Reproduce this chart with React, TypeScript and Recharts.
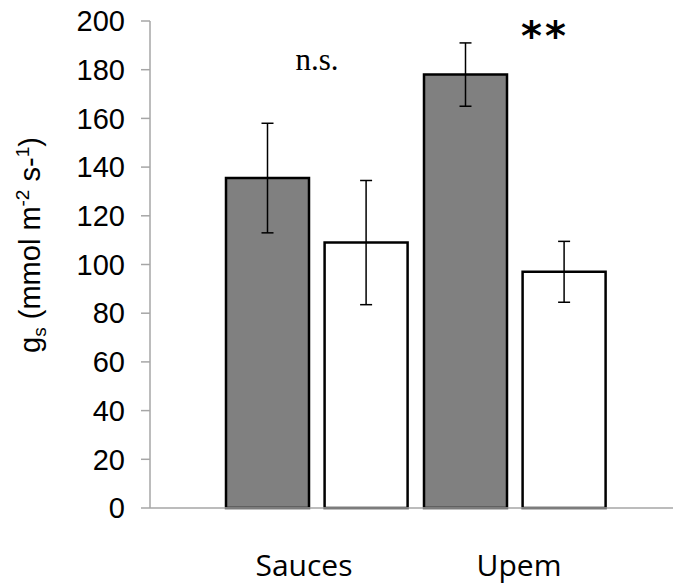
import React from 'react';
import { BarChart, Bar, XAxis, YAxis, ErrorBar, ReferenceDot } from 'recharts';

const categories = ['Sauces', 'Upem'];
const greyValues = [135.5, 178];
const greyErrors = [22.5, 13];
const whiteValues = [109, 97];
const whiteErrors = [25.5, 12.5];
const yTicks = [0, 20, 40, 60, 80, 100, 120, 140, 160, 180, 200];
const annotations = [
  { category: 'Sauces', text: 'n.s.', y: 180 },
  { category: 'Upem', text: '**', y: 196 },
];

const data = categories.map((c, i) => ({
  category: c,
  grey: greyValues[i],
  greyErr: greyErrors[i],
  white: whiteValues[i],
  whiteErr: whiteErrors[i],
}));

const tickShift: Record<string, number> = { Sauces: -13, Upem: 4 };

const XTick = (props: any) => {
  const { x, y, payload } = props;
  return (
    <text
      x={x + (tickShift[payload.value] ?? 0)}
      y={y + 68}
      textAnchor="middle"
      fontFamily="'Open Sans', sans-serif"
      fontSize={30}
      fill="#000"
    >
      {payload.value}
    </text>
  );
};

const YLabel = (props: any) => {
  const vb = props.viewBox || { x: 0, y: 21, width: 150, height: 487 };
  const cx = vb.x + 40;
  const cy = vb.y + vb.height / 2 - 19.5;
  return (
    <text
      x={cx}
      y={cy}
      transform={`rotate(-90 ${cx} ${cy})`}
      textAnchor="middle"
      fontFamily="'Liberation Sans', Arial, sans-serif"
      fontSize={29}
      fill="#000"
    >
      <tspan>g</tspan>
      <tspan fontSize={19} dy={6}>s</tspan>
      <tspan dy={-6}> (mmol m</tspan>
      <tspan fontSize={19} dy={-11}>-2</tspan>
      <tspan dy={11}> s-</tspan>
      <tspan fontSize={19} dy={-11}>1</tspan>
      <tspan dy={11}>)</tspan>
    </text>
  );
};

const NsLabel = (props: any) => {
  const vb = props.viewBox || { x: 0, y: 0, width: 0, height: 0 };
  const cx = vb.x + (vb.width || 0) / 2;
  const cy = vb.y + (vb.height || 0) / 2;
  return (
    <text x={cx} y={cy} textAnchor="middle" fontFamily="'Liberation Serif', 'Times New Roman', serif" fontSize={31} fill="#000">
      n.s.
    </text>
  );
};

const StarLabel = (props: any) => {
  const vb = props.viewBox || { x: 0, y: 0, width: 0, height: 0 };
  const cx = vb.x + (vb.width || 0) / 2 + 30;
  const cy = vb.y + (vb.height || 0) / 2 + 19;
  return (
    <text x={cx} y={cy} textAnchor="middle" fontFamily="'DejaVu Sans', sans-serif" fontWeight="bold" fontSize={40} letterSpacing={3} fill="#000">
      **
    </text>
  );
};

export default function App() {
  return (
    <div style={{ position: 'absolute', left: 0, top: 0, width: 673, height: 584, background: '#fff' }}>
      <BarChart
        width={673}
        height={584}
        data={data}
        margin={{ top: 21, right: 0, bottom: 0, left: 0 }}
        barSize={83}
        barGap={15.6}
      >
        <XAxis
          dataKey="category"
          interval={0}
          tickLine={false}
          tickSize={0}
          tickMargin={0}
          height={76}
          padding={{ left: 68, right: 59 }}
          axisLine={{ stroke: '#a6a6a6', strokeWidth: 1.5 }}
          tick={<XTick />}
        />
        <YAxis
          width={150}
          domain={[0, 200]}
          ticks={yTicks}
          interval={0}
          tickSize={9}
          tickMargin={16}
          axisLine={{ stroke: '#a6a6a6', strokeWidth: 1.5 }}
          tickLine={{ stroke: '#a6a6a6', strokeWidth: 1.5 }}
          tick={{ fontSize: 29, fontFamily: "'Liberation Sans', Arial, sans-serif", fill: '#000' }}
          label={<YLabel />}
        />
        <Bar dataKey="grey" fill="#808080" stroke="#000" strokeWidth={2.5} isAnimationActive={false}>
          <ErrorBar dataKey="greyErr" width={6} stroke="#000" strokeWidth={1.5} direction="y" />
        </Bar>
        <Bar dataKey="white" fill="#ffffff" stroke="#000" strokeWidth={2.5} isAnimationActive={false}>
          <ErrorBar dataKey="whiteErr" width={6} stroke="#000" strokeWidth={1.5} direction="y" />
        </Bar>
        <ReferenceDot
          x={annotations[0].category}
          y={annotations[0].y}
          r={0}
          fill="none"
          stroke="none"
          ifOverflow="visible"
          label={<NsLabel />}
        />
        <ReferenceDot
          x={annotations[1].category}
          y={annotations[1].y}
          r={0}
          fill="none"
          stroke="none"
          ifOverflow="visible"
          label={<StarLabel />}
        />
      </BarChart>
    </div>
  );
}
